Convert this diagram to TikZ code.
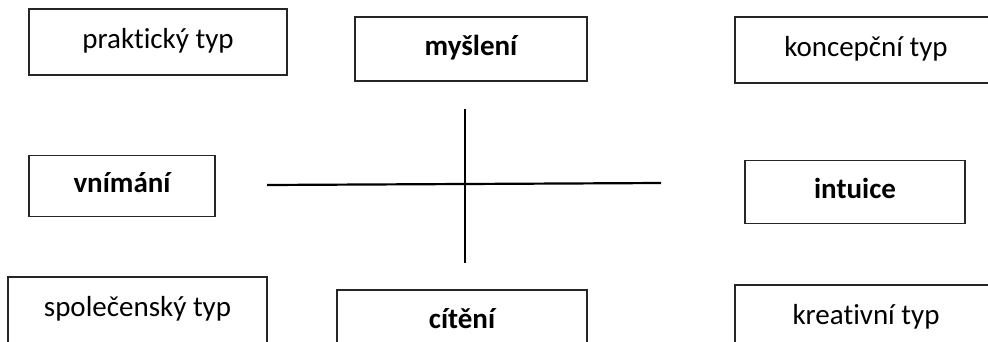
\documentclass[tikz,border=0pt]{standalone}
\usepackage{fontspec}
\setmainfont{Carlito}[Ligatures={NoCommon}]
\begin{document}
\begin{tikzpicture}[x=1pt,y=-1pt,
  typebox/.style={draw=black!85,line width=1.1pt,inner sep=0pt,
    text height=12pt,text depth=0pt,
    font=\fontsize{29}{34}\selectfont},
  funcbox/.style={typebox,font=\fontsize{29}{34}\selectfont\bfseries},
  axis/.style={line width=2.2pt,black}]
\useasboundingbox (0,0) rectangle (988,341);
\clip (0,0) rectangle (988,341);

% corner types
\node[typebox,minimum width=258pt,minimum height=66pt] (prak) at (158,42) {praktický typ};
\node[typebox,minimum width=262pt,minimum height=66pt] (konc) at (866,50) {koncepční typ};
\node[typebox,minimum width=259pt,minimum height=66pt] (spol) at (137.5,310) {společenský typ};
\node[typebox,minimum width=262pt,minimum height=66pt] (krea) at (866,318) {kreativní typ};

% the four functions
\node[funcbox,minimum width=232pt,minimum height=64pt] (mysl) at (471,49) {myšlení};
\node[funcbox,minimum width=186pt,minimum height=61pt] (vnim) at (122,186) {vnímání};
\node[funcbox,minimum width=220pt,minimum height=63pt] (intu) at (855,192) {intuice};
\node[funcbox,minimum width=250pt,minimum height=64pt] (citn) at (462,322) {cítění};

% axes
\coordinate (top) at (465,109);
\coordinate (bottom) at (465,263);
\coordinate (left) at (267,185);
\coordinate (right) at (661,183);
\draw[axis] (top) -- (bottom);
\draw[axis] (left) -- (right);
\end{tikzpicture}
\end{document}
